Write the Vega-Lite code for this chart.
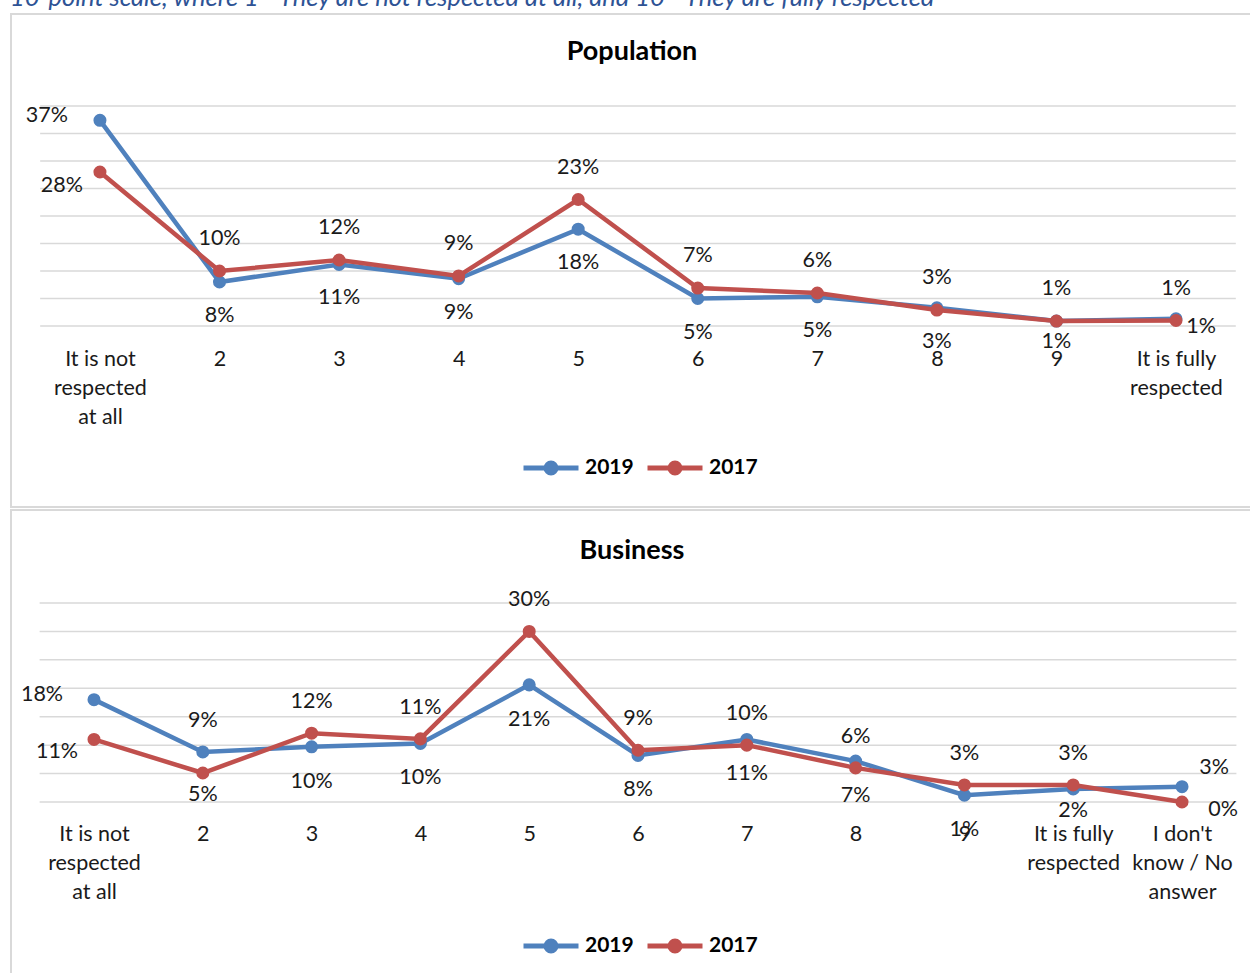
{
  "$schema": "https://vega.github.io/schema/vega-lite/v6.json",
  "padding": {"left": 10, "top": -15, "right": 0, "bottom": 0},
  "title": {"text": "10-point scale, where 1 - They are not respected at all, and 10 - They are fully respected", "anchor": "start", "fontSize": 25.5, "fontStyle": "italic", "fontWeight": "normal", "color": "#2E5395", "offset": 2},
  "spacing": 1,
  "resolve": {"scale": {"color": "independent"}, "legend": {"color": "independent"}},
  "config": {
    "font": "Lato",
    "view": {"stroke": "#D9D9D9", "strokeWidth": 2, "fill": "white"},
    "title": {"fontSize": 27, "fontWeight": "bold", "color": "#000000"},
    "legend": {"orient": "none", "direction": "horizontal", "title": null, "padding": 0, "labelFontSize": 21, "labelFontWeight": "bold", "labelColor": "#000000", "labelOffset": 4, "columnPadding": 3}
  },
  "vconcat": [
    {
      "width": 1242,
      "height": 493,
      "title": {"text": "Population", "offset": -52},
      "data": {"values": [
        {"idx": 1, "cat": "It is not respected at all", "year": "2019", "value": 0.374},
        {"idx": 2, "cat": "2", "year": "2019", "value": 0.08},
        {"idx": 3, "cat": "3", "year": "2019", "value": 0.112},
        {"idx": 4, "cat": "4", "year": "2019", "value": 0.086},
        {"idx": 5, "cat": "5", "year": "2019", "value": 0.176},
        {"idx": 6, "cat": "6", "year": "2019", "value": 0.05},
        {"idx": 7, "cat": "7", "year": "2019", "value": 0.053},
        {"idx": 8, "cat": "8", "year": "2019", "value": 0.033},
        {"idx": 9, "cat": "9", "year": "2019", "value": 0.009},
        {"idx": 10, "cat": "It is fully respected", "year": "2019", "value": 0.013},
        {"idx": 1, "cat": "It is not respected at all", "year": "2017", "value": 0.28},
        {"idx": 2, "cat": "2", "year": "2017", "value": 0.10},
        {"idx": 3, "cat": "3", "year": "2017", "value": 0.12},
        {"idx": 4, "cat": "4", "year": "2017", "value": 0.091},
        {"idx": 5, "cat": "5", "year": "2017", "value": 0.23},
        {"idx": 6, "cat": "6", "year": "2017", "value": 0.069},
        {"idx": 7, "cat": "7", "year": "2017", "value": 0.06},
        {"idx": 8, "cat": "8", "year": "2017", "value": 0.029},
        {"idx": 9, "cat": "9", "year": "2017", "value": 0.009},
        {"idx": 10, "cat": "It is fully respected", "year": "2017", "value": 0.01}
      ]},
      "encoding": {
        "x": {"field": "cat", "type": "nominal",
          "scale": {"type": "point", "domain": ["It is not respected at all", "2", "3", "4", "5", "6", "7", "8", "9", "It is fully respected"], "padding": 0.694, "align": 0.536},
          "axis": {"title": null, "domain": false, "ticks": false, "grid": false, "labelAngle": 0, "labelFontSize": 21.5, "labelColor": "#1a1a1a", "labelLineHeight": 29, "labelPadding": 0, "offset": -159, "labelOverlap": false, "labelBound": false, "labelFlush": false,
            "labelExpr": "datum.value == 'It is not respected at all' ? ['It is not', 'respected', 'at all'] : datum.value == 'It is fully respected' ? ['It is fully', 'respected'] : datum.label"}},
        "y": {"field": "value", "type": "quantitative", "scale": {"domain": [-0.3291, 0.5673], "nice": false, "zero": false}, "axis": null}
      },
      "layer": [
        {"data": {"values": [{"value": 0}, {"value": 0.05}, {"value": 0.10}, {"value": 0.15}, {"value": 0.20}, {"value": 0.25}, {"value": 0.30}, {"value": 0.35}, {"value": 0.40}]},
         "mark": {"type": "rule", "color": "#D9D9D9", "strokeWidth": 1.5, "xOffset": -59.8, "x2Offset": 59.8},
         "encoding": {"x": {"datum": "It is not respected at all", "type": "nominal"}, "x2": {"datum": "It is fully respected"}}},
        {"transform": [{"filter": "datum.year == '2019'"}],
         "mark": {"type": "line", "strokeWidth": 4.5, "point": {"filled": true, "size": 170}},
         "encoding": {"color": {"field": "year", "type": "nominal", "scale": {"domain": ["2019", "2017"], "range": ["#4F81BD", "#C0504D"]},
           "legend": {"legendX": 510, "legendY": 424, "symbolType": "M-1,0H1M0.18,0A0.18,0.18,0,1,1,-0.18,0A0.18,0.18,0,1,1,0.18,0M0.08,0A0.08,0.08,0,1,1,-0.08,0A0.08,0.08,0,1,1,0.08,0", "symbolSize": 3025, "symbolStrokeWidth": 5}}}},
        {"transform": [{"filter": "datum.year == '2017'"}],
         "mark": {"type": "line", "strokeWidth": 4.5, "point": {"filled": true, "size": 170}},
         "encoding": {"color": {"field": "year", "type": "nominal", "scale": {"domain": ["2019", "2017"], "range": ["#4F81BD", "#C0504D"]},
           "legend": {"legendX": 510, "legendY": 424, "symbolType": "M-1,0H1M0.18,0A0.18,0.18,0,1,1,-0.18,0A0.18,0.18,0,1,1,0.18,0M0.08,0A0.08,0.08,0,1,1,-0.08,0A0.08,0.08,0,1,1,0.08,0", "symbolSize": 3025, "symbolStrokeWidth": 5}}}},
        {"transform": [{"filter": "datum.year == '2017' && datum.idx >= 2"}],
         "mark": {"type": "text", "dy": -32, "fontSize": 21.5, "color": "#1a1a1a"},
         "encoding": {"text": {"field": "value", "type": "quantitative", "format": ".0%"}}},
        {"transform": [{"filter": "datum.year == '2019' && datum.idx >= 2 && datum.idx <= 8"}],
         "mark": {"type": "text", "dy": 34, "fontSize": 21.5, "color": "#1a1a1a"},
         "encoding": {"text": {"field": "value", "type": "quantitative", "format": ".0%"}}},
        {"transform": [{"filter": "datum.year == '2019' && datum.idx == 9"}],
         "mark": {"type": "text", "dy": 21, "fontSize": 21.5, "color": "#1a1a1a"},
         "encoding": {"text": {"field": "value", "type": "quantitative", "format": ".0%"}}},
        {"transform": [{"filter": "datum.year == '2019' && datum.idx == 10"}],
         "mark": {"type": "text", "dx": 25, "dy": 8, "fontSize": 21.5, "color": "#1a1a1a"},
         "encoding": {"text": {"field": "value", "type": "quantitative", "format": ".0%"}}},
        {"transform": [{"filter": "datum.year == '2019' && datum.idx == 1"}],
         "mark": {"type": "text", "dx": -53, "dy": -4, "fontSize": 21.5, "color": "#1a1a1a"},
         "encoding": {"text": {"field": "value", "type": "quantitative", "format": ".0%"}}},
        {"transform": [{"filter": "datum.year == '2017' && datum.idx == 1"}],
         "mark": {"type": "text", "dx": -38, "dy": 14, "fontSize": 21.5, "color": "#1a1a1a"},
         "encoding": {"text": {"field": "value", "type": "quantitative", "format": ".0%"}}}
      ]
    },
    {
      "width": 1242,
      "height": 470,
      "title": {"text": "Business", "offset": -55},
      "data": {"values": [
        {"idx": 1, "cat": "It is not respected at all", "year": "2019", "value": 0.18},
        {"idx": 2, "cat": "2", "year": "2019", "value": 0.088},
        {"idx": 3, "cat": "3", "year": "2019", "value": 0.097},
        {"idx": 4, "cat": "4", "year": "2019", "value": 0.103},
        {"idx": 5, "cat": "5", "year": "2019", "value": 0.206},
        {"idx": 6, "cat": "6", "year": "2019", "value": 0.082},
        {"idx": 7, "cat": "7", "year": "2019", "value": 0.11},
        {"idx": 8, "cat": "8", "year": "2019", "value": 0.072},
        {"idx": 9, "cat": "9", "year": "2019", "value": 0.012},
        {"idx": 10, "cat": "It is fully respected", "year": "2019", "value": 0.023},
        {"idx": 11, "cat": "I don't know / No answer", "year": "2019", "value": 0.027},
        {"idx": 1, "cat": "It is not respected at all", "year": "2017", "value": 0.11},
        {"idx": 2, "cat": "2", "year": "2017", "value": 0.051},
        {"idx": 3, "cat": "3", "year": "2017", "value": 0.121},
        {"idx": 4, "cat": "4", "year": "2017", "value": 0.111},
        {"idx": 5, "cat": "5", "year": "2017", "value": 0.30},
        {"idx": 6, "cat": "6", "year": "2017", "value": 0.091},
        {"idx": 7, "cat": "7", "year": "2017", "value": 0.10},
        {"idx": 8, "cat": "8", "year": "2017", "value": 0.06},
        {"idx": 9, "cat": "9", "year": "2017", "value": 0.03},
        {"idx": 10, "cat": "It is fully respected", "year": "2017", "value": 0.03},
        {"idx": 11, "cat": "I don't know / No answer", "year": "2017", "value": 0.0}
      ]},
      "encoding": {
        "x": {"field": "cat", "type": "nominal",
          "scale": {"type": "point", "domain": ["It is not respected at all", "2", "3", "4", "5", "6", "7", "8", "9", "It is fully respected", "I don't know / No answer"], "padding": 0.7077, "align": 0.539},
          "axis": {"title": null, "domain": false, "ticks": false, "grid": false, "labelAngle": 0, "labelFontSize": 21.5, "labelColor": "#1a1a1a", "labelLineHeight": 29, "labelPadding": 0, "offset": -157, "labelOverlap": false, "labelBound": false, "labelFlush": false,
            "labelExpr": "datum.value == 'It is not respected at all' ? ['It is not', 'respected', 'at all'] : datum.value == 'It is fully respected' ? ['It is fully', 'respected'] : datum.value == \"I don't know / No answer\" ? [\"I don't\", 'know / No', 'answer'] : datum.label"}},
        "y": {"field": "value", "type": "quantitative", "scale": {"domain": [-0.313, 0.5135], "nice": false, "zero": false}, "axis": null}
      },
      "layer": [
        {"data": {"values": [{"value": 0}, {"value": 0.05}, {"value": 0.10}, {"value": 0.15}, {"value": 0.20}, {"value": 0.25}, {"value": 0.30}, {"value": 0.35}]},
         "mark": {"type": "rule", "color": "#D9D9D9", "strokeWidth": 1.5, "xOffset": -54.4, "x2Offset": 54.4},
         "encoding": {"x": {"datum": "It is not respected at all", "type": "nominal"}, "x2": {"datum": "I don't know / No answer"}}},
        {"transform": [{"filter": "datum.year == '2019'"}],
         "mark": {"type": "line", "strokeWidth": 4.5, "point": {"filled": true, "size": 170}},
         "encoding": {"color": {"field": "year", "type": "nominal", "scale": {"domain": ["2019", "2017"], "range": ["#4F81BD", "#C0504D"]},
           "legend": {"legendX": 510, "legendY": 406, "symbolType": "M-1,0H1M0.18,0A0.18,0.18,0,1,1,-0.18,0A0.18,0.18,0,1,1,0.18,0M0.08,0A0.08,0.08,0,1,1,-0.08,0A0.08,0.08,0,1,1,0.08,0", "symbolSize": 3025, "symbolStrokeWidth": 5}}}},
        {"transform": [{"filter": "datum.year == '2017'"}],
         "mark": {"type": "line", "strokeWidth": 4.5, "point": {"filled": true, "size": 170}},
         "encoding": {"color": {"field": "year", "type": "nominal", "scale": {"domain": ["2019", "2017"], "range": ["#4F81BD", "#C0504D"]},
           "legend": {"legendX": 510, "legendY": 406, "symbolType": "M-1,0H1M0.18,0A0.18,0.18,0,1,1,-0.18,0A0.18,0.18,0,1,1,0.18,0M0.08,0A0.08,0.08,0,1,1,-0.08,0A0.08,0.08,0,1,1,0.08,0", "symbolSize": 3025, "symbolStrokeWidth": 5}}}},
        {"transform": [{"filter": "(datum.year == '2017' && datum.idx >= 3 && datum.idx <= 10) || (datum.year == '2019' && datum.idx == 2)"}],
         "mark": {"type": "text", "dy": -31, "fontSize": 21.5, "color": "#1a1a1a"},
         "encoding": {"text": {"field": "value", "type": "quantitative", "format": ".0%"}}},
        {"transform": [{"filter": "datum.year == '2019' && datum.idx >= 3 && datum.idx <= 9"}],
         "mark": {"type": "text", "dy": 35, "fontSize": 21.5, "color": "#1a1a1a"},
         "encoding": {"text": {"field": "value", "type": "quantitative", "format": ".0%"}}},
        {"transform": [{"filter": "(datum.year == '2019' && datum.idx == 10) || (datum.year == '2017' && datum.idx == 2)"}],
         "mark": {"type": "text", "dy": 22, "fontSize": 21.5, "color": "#1a1a1a"},
         "encoding": {"text": {"field": "value", "type": "quantitative", "format": ".0%"}}},
        {"transform": [{"filter": "datum.year == '2019' && datum.idx == 1"}],
         "mark": {"type": "text", "dx": -52, "dy": -5, "fontSize": 21.5, "color": "#1a1a1a"},
         "encoding": {"text": {"field": "value", "type": "quantitative", "format": ".0%"}}},
        {"transform": [{"filter": "datum.year == '2017' && datum.idx == 1"}],
         "mark": {"type": "text", "dx": -37, "dy": 13, "fontSize": 21.5, "color": "#1a1a1a"},
         "encoding": {"text": {"field": "value", "type": "quantitative", "format": ".0%"}}},
        {"transform": [{"filter": "datum.year == '2019' && datum.idx == 11"}],
         "mark": {"type": "text", "dx": 32, "dy": -19, "fontSize": 21.5, "color": "#1a1a1a"},
         "encoding": {"text": {"field": "value", "type": "quantitative", "format": ".0%"}}},
        {"transform": [{"filter": "datum.year == '2017' && datum.idx == 11"}],
         "mark": {"type": "text", "dx": 41, "dy": 8, "fontSize": 21.5, "color": "#1a1a1a"},
         "encoding": {"text": {"field": "value", "type": "quantitative", "format": ".0%"}}}
      ]
    }
  ]
}
